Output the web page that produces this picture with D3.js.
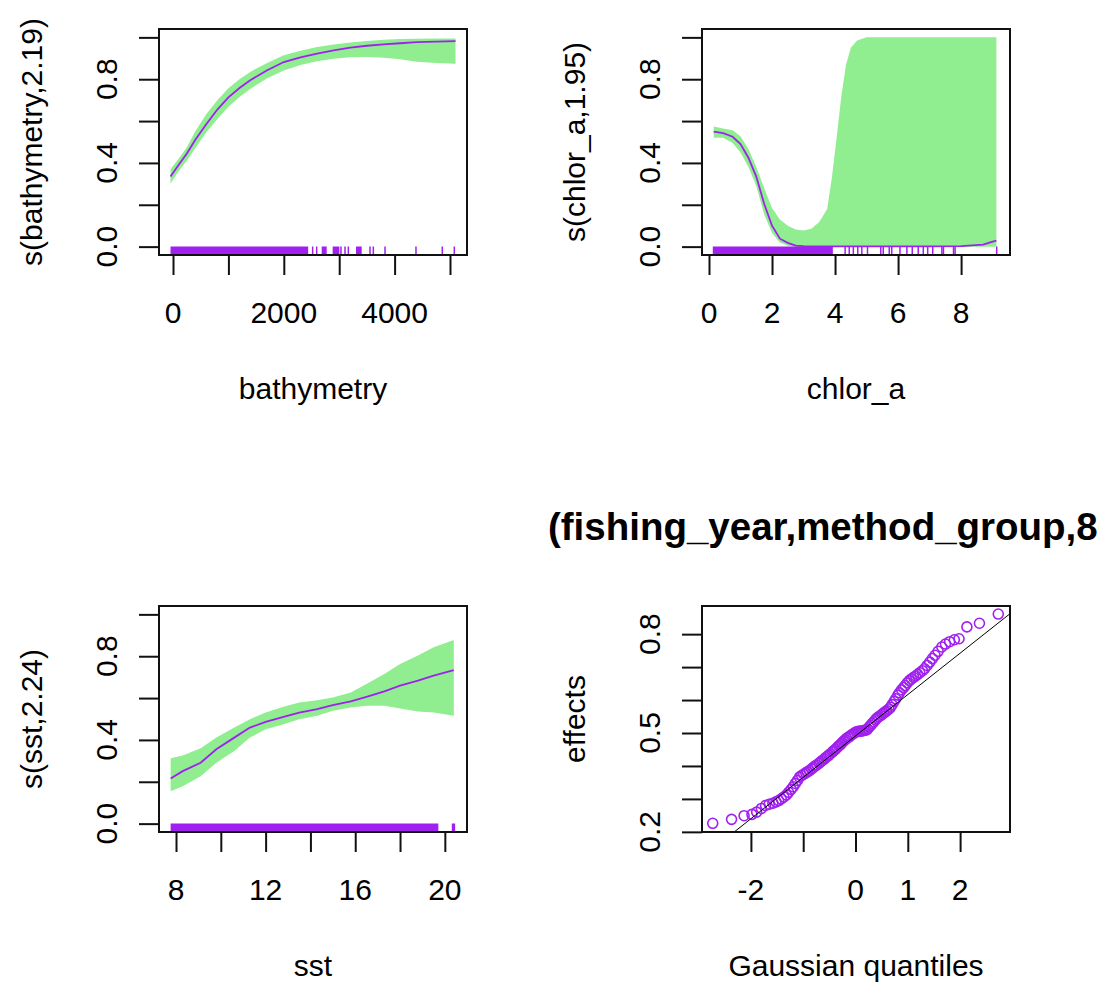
<!DOCTYPE html>
<html><head><meta charset="utf-8">
<script src="https://cdn.jsdelivr.net/npm/d3@7"></script>
<style>
body{margin:0;background:#fff}
svg{display:block}
text{font-family:"Liberation Sans",Arial,sans-serif;fill:#000}
</style>
</head><body>
<svg id="chart" width="1099" height="988"></svg>
<script>
// ---------- Panel 1: bathymetry ----------
const bathyLim = [-47, 5101];
const bathyX     = [-45,100,250,400,600,800,1000,1200,1400,1700,2000,2300,2600,2900,3200,3500,3800,4100,4400,4750,5100];
const bathyFit   = [0.335,0.39,0.445,0.51,0.585,0.655,0.713,0.758,0.796,0.843,0.882,0.904,0.922,0.938,0.951,0.960,0.967,0.972,0.977,0.980,0.982];
const bathyUpper = [0.37,0.42,0.475,0.55,0.633,0.70,0.757,0.80,0.836,0.878,0.914,0.936,0.954,0.966,0.976,0.983,0.989,0.992,0.994,0.995,0.995];
const bathyLower = [0.30,0.36,0.41,0.47,0.545,0.61,0.668,0.715,0.755,0.805,0.842,0.868,0.886,0.898,0.905,0.906,0.903,0.895,0.883,0.877,0.874];
const bathyRugBlocks = [[-45,2440],[2684,2774],[2882,3003],[3303,3406]];
const bathyRugTicks  = [2521,2593,3032,3105,3165,3556,3616,3827,4386,4861,5078];
const bathyXTicks  = [0,1000,2000,3000,4000,5000];
const bathyXLabels = [0,2000,4000];

// ---------- Panel 2: chlor_a ----------
const chlorLim = [0.14, 9.19];
const chlorX     = [0.15,0.45,0.75,1.0,1.25,1.5,1.75,2.0,2.25,2.5,2.75,3.0,3.25,3.5,3.75,3.9,4.05,4.2,4.35,4.5,4.7,5.0,6.0,7.0,8.0,8.7,8.95,9.12];
const chlorFit   = [0.55,0.542,0.525,0.49,0.425,0.335,0.205,0.10,0.038,0.018,0.005,0.002,0.001,0.001,0.001,0.001,0.001,0.001,0.001,0.001,0.001,0.001,0.001,0.001,0.002,0.01,0.022,0.029];
const chlorUpper = [0.574,0.565,0.556,0.528,0.467,0.382,0.28,0.185,0.13,0.10,0.082,0.077,0.086,0.118,0.18,0.33,0.52,0.72,0.87,0.95,0.985,1.0,1.0,1.0,1.0,1.0,1.0,1.0];
const chlorLower = [0.52,0.52,0.495,0.45,0.38,0.29,0.155,0.065,0.02,0.004,0,0,0,0,0,0,0,0,0,0,0,0,0,0,0,0,0,0];
const chlorRugBlocks = [[0.12,3.93]];
const chlorRugTicks  = [4.32,4.45,4.58,4.72,4.85,5.03,5.45,5.53,5.72,5.80,6.06,6.28,6.45,6.64,6.80,6.94,7.10,7.39,7.44,7.76,7.81,9.13];
const chlorXTicks  = [0,2,4,6,8];
const chlorXLabels = [0,2,4,6,8];

// ---------- Panel 3: sst ----------
const sstLim = [7.75, 20.48];
const sstX     = [7.76,8.3,9.1,9.8,10.6,11.3,12.0,12.8,13.5,14.3,15.0,15.8,16.5,17.3,18.0,18.8,19.5,20.4];
const sstFit   = [0.216,0.251,0.291,0.355,0.411,0.459,0.486,0.510,0.531,0.547,0.566,0.584,0.606,0.632,0.659,0.683,0.707,0.734];
const sstUpper = [0.312,0.326,0.360,0.411,0.459,0.499,0.531,0.558,0.579,0.590,0.603,0.627,0.667,0.715,0.763,0.803,0.843,0.878];
const sstLower = [0.155,0.179,0.227,0.291,0.347,0.411,0.451,0.475,0.499,0.515,0.539,0.555,0.563,0.563,0.550,0.536,0.531,0.515];
const sstRugBlocks = [[7.76,19.71],[20.31,20.46]];
const sstRugTicks  = [];
const sstXTicks  = [8,10,12,14,16,18,20];
const sstXLabels = [8,12,16,20];

const smoothYLim    = [0, 1];
const smoothYTicks  = [0,0.2,0.4,0.6,0.8,1.0];
const smoothYLabels = [0,0.4,0.8];

// ---------- Panel 4: random effect QQ plot ----------
const qqXLim = [-2.717, 2.736];
const qqYLim = [0.225, 0.86];
const qqQuantiles = [-2.73,-2.37,-2.13,-1.98,-1.89,-1.80,-1.72,-1.65,-1.58,-1.52,-1.47,-1.42,-1.37,-1.32,-1.28,-1.23,-1.19,-1.15,-1.11,-1.07,-1.03,-0.99,-0.95,-0.92,-0.88,-0.84,-0.81,-0.77,-0.74,-0.70,-0.67,-0.64,-0.60,-0.57,-0.54,-0.51,-0.48,-0.44,-0.41,-0.38,-0.35,-0.32,-0.29,-0.26,-0.23,-0.20,-0.17,-0.14,-0.11,-0.08,-0.05,-0.02,0.02,0.05,0.08,0.11,0.14,0.17,0.20,0.23,0.26,0.29,0.32,0.35,0.38,0.41,0.44,0.48,0.51,0.54,0.57,0.60,0.64,0.67,0.70,0.74,0.77,0.81,0.84,0.88,0.92,0.95,0.99,1.03,1.07,1.11,1.15,1.19,1.23,1.28,1.32,1.37,1.42,1.47,1.52,1.58,1.65,1.72,1.80,1.89,1.98,2.13,2.37,2.73];
const qqEffects   = [0.226,0.238,0.249,0.253,0.260,0.271,0.280,0.284,0.287,0.291,0.295,0.300,0.306,0.312,0.320,0.329,0.337,0.347,0.356,0.366,0.371,0.375,0.379,0.382,0.386,0.391,0.395,0.400,0.403,0.408,0.412,0.416,0.421,0.425,0.429,0.433,0.437,0.443,0.447,0.451,0.456,0.461,0.465,0.470,0.475,0.479,0.484,0.487,0.490,0.494,0.497,0.500,0.504,0.505,0.505,0.506,0.507,0.508,0.509,0.512,0.518,0.523,0.529,0.534,0.540,0.545,0.549,0.553,0.557,0.561,0.564,0.568,0.573,0.578,0.586,0.596,0.604,0.615,0.622,0.631,0.638,0.644,0.652,0.659,0.664,0.669,0.673,0.678,0.683,0.689,0.695,0.705,0.715,0.726,0.736,0.748,0.761,0.770,0.777,0.783,0.786,0.822,0.833,0.861];
const qqLineCoef = [0.491, 0.1256]; // intercept, slope
const qqXTicks  = [-2,-1,0,1,2];
const qqXLabels = [-2,0,1,2];
const qqYTicks  = [0.2,0.3,0.4,0.5,0.6,0.7,0.8];
const qqYLabels = [0.2,0.5,0.8];

// ---------- drawing ----------
const PURPLE = "#a020f0", GREEN = "#90ee90", INK = "#111";
const FS = 30;
const svg = d3.select("#chart");
const ext = ([lo,hi]) => { const r = hi-lo; return [lo-0.04*r, hi+0.04*r]; };

function panel(o){
  const [x0,y0,x1,y1] = o.box;
  const x = d3.scaleLinear().domain(ext(o.xlim)).range([x0,x1]);
  const y = d3.scaleLinear().domain(ext(o.ylim)).range([y1,y0]);
  const g = svg.append("g");
  const id = "clip"+o.id;
  svg.append("clipPath").attr("id",id).append("rect")
     .attr("x",x0).attr("y",y0).attr("width",x1-x0).attr("height",y1-y0);
  const plot = g.append("g").attr("clip-path",`url(#${id})`);
  return {x,y,g,plot,box:o.box};
}

function axes(p,o){
  const [x0,y0,x1,y1] = p.box;
  const fmtY = o.yFmt || d3.format(".1f");
  const ax = p.g.append("g").attr("transform",`translate(0,${y1})`)
    .call(d3.axisBottom(p.x).tickValues(o.xTicks).tickSize(20).tickSizeOuter(0).tickFormat(""));
  ax.select(".domain").remove();
  ax.selectAll(".tick line").attr("stroke",INK).attr("stroke-width",2);
  p.g.selectAll(null).data(o.xLabels).join("text")
    .attr("x",d=>p.x(d)).attr("y",y1+68).attr("text-anchor","middle")
    .attr("font-size",FS).text(d=>String(d));
  const ay = p.g.append("g").attr("transform",`translate(${x0},0)`)
    .call(d3.axisLeft(p.y).tickValues(o.yTicks).tickSize(20).tickSizeOuter(0).tickFormat(""));
  ay.select(".domain").remove();
  ay.selectAll(".tick line").attr("stroke",INK).attr("stroke-width",2);
  p.g.selectAll(null).data(o.yLabels).join("text")
    .attr("transform",d=>`translate(${x0-42},${p.y(d)}) rotate(-90)`)
    .attr("text-anchor","middle").attr("font-size",FS).text(d=>fmtY(d));
  p.g.append("text").attr("x",(x0+x1)/2).attr("y",y1+144).attr("text-anchor","middle")
    .attr("font-size",FS).text(o.xTitle);
  p.g.append("text").attr("transform",`translate(${x0-117},${(y0+y1)/2}) rotate(-90)`)
    .attr("text-anchor","middle").attr("font-size",FS).text(o.yTitle);
  p.g.append("rect").attr("x",x0).attr("y",y0).attr("width",x1-x0).attr("height",y1-y0)
    .attr("fill","none").attr("stroke",INK).attr("stroke-width",2);
}

function smoothPanel(o){
  const p = panel(o);
  const rows = o.xs.map((v,i)=>({x:v,f:o.fit[i],u:o.upper[i],l:o.lower[i]}));
  p.plot.append("path").datum(rows).attr("fill",GREEN)
    .attr("d",d3.area().x(d=>p.x(d.x)).y0(d=>p.y(d.l)).y1(d=>p.y(d.u)));
  p.plot.append("path").datum(rows).attr("fill","none").attr("stroke",PURPLE).attr("stroke-width",1.8)
    .attr("d",d3.line().x(d=>p.x(d.x)).y(d=>p.y(d.f)));
  const y1 = o.box[3];
  p.plot.selectAll(null).data(o.rugBlocks).join("rect")
    .attr("x",d=>p.x(d[0])).attr("width",d=>p.x(d[1])-p.x(d[0]))
    .attr("y",y1-8.5).attr("height",8.5).attr("fill",PURPLE);
  p.plot.selectAll(null).data(o.rugTicks).join("line")
    .attr("x1",d=>p.x(d)).attr("x2",d=>p.x(d)).attr("y1",y1).attr("y2",y1-8.5)
    .attr("stroke",PURPLE).attr("stroke-width",1.5);
  axes(p,o);
}

smoothPanel({id:1,box:[159,29,467,255],xlim:bathyLim,ylim:smoothYLim,xs:bathyX,fit:bathyFit,upper:bathyUpper,lower:bathyLower,
  rugBlocks:bathyRugBlocks,rugTicks:bathyRugTicks,xTicks:bathyXTicks,xLabels:bathyXLabels,yTicks:smoothYTicks,yLabels:smoothYLabels,
  xTitle:"bathymetry",yTitle:"s(bathymetry,2.19)"});
smoothPanel({id:2,box:[702,29,1010,255],xlim:chlorLim,ylim:smoothYLim,xs:chlorX,fit:chlorFit,upper:chlorUpper,lower:chlorLower,
  rugBlocks:chlorRugBlocks,rugTicks:chlorRugTicks,xTicks:chlorXTicks,xLabels:chlorXLabels,yTicks:smoothYTicks,yLabels:smoothYLabels,
  xTitle:"chlor_a",yTitle:"s(chlor_a,1.95)"});
smoothPanel({id:3,box:[159,606,467,832],xlim:sstLim,ylim:smoothYLim,xs:sstX,fit:sstFit,upper:sstUpper,lower:sstLower,
  rugBlocks:sstRugBlocks,rugTicks:sstRugTicks,xTicks:sstXTicks,xLabels:sstXLabels,yTicks:smoothYTicks,yLabels:smoothYLabels,
  xTitle:"sst",yTitle:"s(sst,2.24)"});

(function(){
  const o = {id:4,box:[702,606,1010,832],xlim:qqXLim,ylim:qqYLim,xTicks:qqXTicks,xLabels:qqXLabels,
    yTicks:qqYTicks,yLabels:qqYLabels,xTitle:"Gaussian quantiles",yTitle:"effects"};
  const p = panel(o);
  const pts = qqQuantiles.map((q,i)=>({q,e:qqEffects[i]}));
  p.plot.selectAll(null).data(pts).join("circle")
    .attr("cx",d=>p.x(d.q)).attr("cy",d=>p.y(d.e)).attr("r",5)
    .attr("fill","none").attr("stroke",PURPLE).attr("stroke-width",1.6);
  const [a,b] = qqLineCoef, dx = p.x.domain();
  p.plot.append("line").attr("x1",p.x(dx[0])).attr("y1",p.y(a+b*dx[0]))
    .attr("x2",p.x(dx[1])).attr("y2",p.y(a+b*dx[1])).attr("stroke","#000").attr("stroke-width",1);
  axes(p,o);
  // main title: as in the reference, it is wider than its figure region and clipped to it
  svg.append("clipPath").attr("id","figclip").append("rect").attr("x",547).attr("y",0).attr("width",552).attr("height",988);
  svg.append("text").attr("clip-path","url(#figclip)")
    .attr("x",(o.box[0]+o.box[2])/2).attr("y",540).attr("text-anchor","middle")
    .attr("font-size",38.5).attr("font-weight","bold")
    .text("s(fishing_year,method_group,86.23)");
})();
</script>
</body></html>
